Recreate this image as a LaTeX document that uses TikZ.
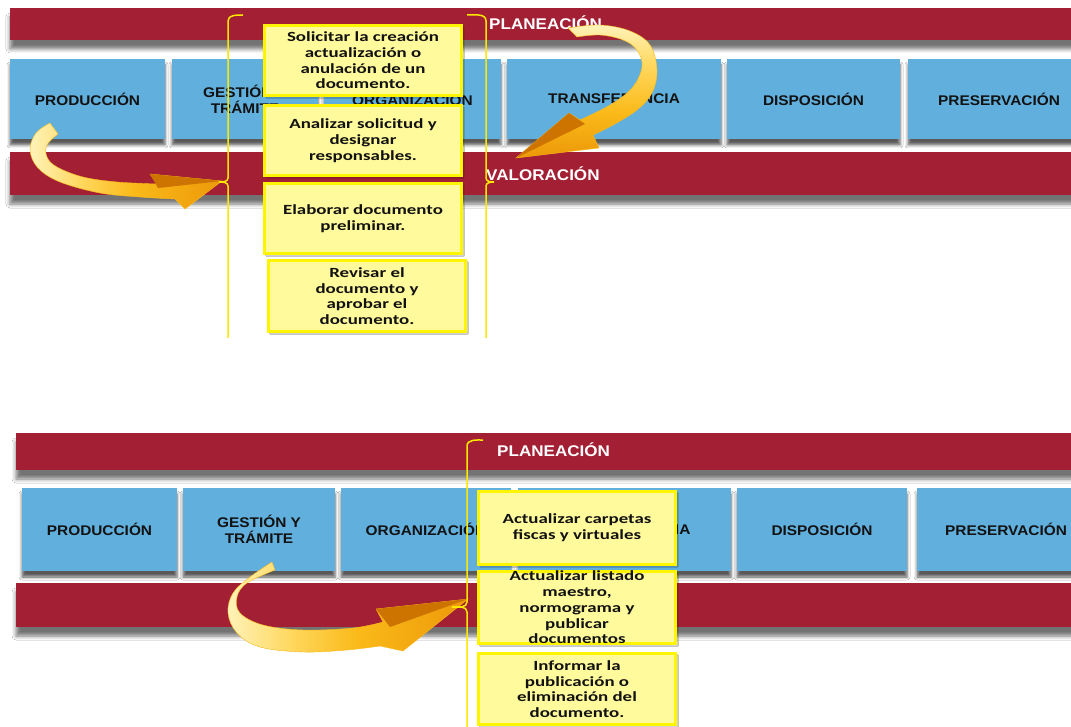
\documentclass[tikz,border=0pt]{standalone}
\usepackage{fontspec}
\setmainfont{Liberation Sans}
\newfontfamily\calib{Carlito}
\usetikzlibrary{shadows.blur}
\definecolor{barred}{RGB}{163,31,52}
\definecolor{boxblue}{RGB}{96,175,221}
\definecolor{noteyel}{RGB}{255,250,156}
\definecolor{noteedge}{RGB}{255,245,0}
\definecolor{brk}{RGB}{255,232,0}
\definecolor{arrL}{RGB}{255,243,185}
\definecolor{arrY}{RGB}{255,216,95}
\definecolor{arrM}{RGB}{250,186,25}
\definecolor{arrO}{RGB}{236,152,8}
\definecolor{arrD}{RGB}{205,115,0}
\definecolor{txt}{RGB}{18,18,18}
\pgfdeclarehorizontalshading{arrowH}{100bp}{color(0bp)=(arrL); color(25bp)=(arrL); color(38bp)=(arrY); color(52bp)=(arrM); color(75bp)=(arrO); color(100bp)=(arrO)}
\pgfdeclareverticalshading{arrowV}{100bp}{color(0bp)=(arrO); color(25bp)=(arrO); color(42bp)=(arrM); color(60bp)=(arrY); color(75bp)=(arrL); color(100bp)=(arrL)}
\begin{document}
\begin{tikzpicture}[x=1pt,y=-1pt,
  bar/.style={fill=barred, draw=none, inner sep=0pt, minimum width=1080pt,
    blur shadow={shadow xshift=0pt, shadow yshift=-9pt, shadow blur radius=4pt, shadow opacity=55}},
  bluebox/.style={fill=boxblue, draw=none, inner sep=0pt,
    blur shadow={shadow xshift=0pt, shadow yshift=-6pt, shadow blur radius=3pt, shadow opacity=65}},
  bluetext/.style={font=\bfseries\fontsize{14}{16}\selectfont, text=txt, xscale=1.1, inner sep=0pt, align=center},
  bartext/.style={font=\bfseries\fontsize{15.5}{17}\selectfont, text=white, xscale=1.1, inner sep=0pt, anchor=west},
  note/.style={fill=noteyel, draw=noteedge, line width=3pt, inner sep=0pt, minimum width=197pt,
    blur shadow={shadow xshift=2pt, shadow yshift=-2pt, shadow blur radius=1pt, shadow opacity=30}},
  notetext/.style={font=\calib\bfseries\fontsize{14}{15.7}\selectfont, text=txt, xscale=1.35, inner sep=0pt, align=center},
  brace/.style={draw=brk, line width=1.5pt},
  arrowbody/.style={draw=arrM, line width=0.4pt},
]
\useasboundingbox (0,0) rectangle (1071,727);
\clip (0,0) rectangle (1071,727);
\fill[white] (0,0) rectangle (1071,727);

% ================= TOP PANEL =================
\node[bar, minimum height=32pt] (tplan) at (550,24) {};
\node[bar, minimum height=43pt] (tval) at (550,173.5) {};
\node[bartext] (tplant) at (489,23) {PLANEACIÓN};
\node[bartext] (tvalt) at (486,174) {VALORACIÓN};

\node[bluebox, minimum width=155pt, minimum height=80pt] (tprod) at (87.5,99) {};
\node[bluebox, minimum width=146pt, minimum height=80pt] (tgest) at (245,99) {};
\node[bluebox, minimum width=177pt, minimum height=80pt] (torg) at (412.5,99) {};
\node[bluebox, minimum width=214pt, minimum height=80pt] (ttrans) at (614,99) {};
\node[bluebox, minimum width=173pt, minimum height=80pt] (tdisp) at (813.5,99) {};
\node[bluebox, minimum width=182pt, minimum height=80pt] (tpres) at (999,99) {};
\node[bluetext] (tprodt) at (tprod) {PRODUCCIÓN};
\node[bluetext] (tgestt) at (tgest) {GESTIÓN Y\\TRÁMITE};
\node[bluetext] (torgt) at (torg) {ORGANIZACIÓN};
\node[bluetext] (ttranst) at (ttrans) {TRANSFERENCIA};
\node[bluetext] (tdispt) at (tdisp) {DISPOSICIÓN};
\node[bluetext] (tprest) at (tpres) {PRESERVACIÓN};

% arrow 1
\shade[shading=arrowH, arrowbody] (50,123)
  -- plot[smooth, tension=0.6] coordinates {(50,123) (36,133) (30,150) (38,168) (60,182) (100,193) (140,197) (175,199)}
  -- (185,209) -- (222,181) -- (150,174) -- (157,184)
  -- plot[smooth, tension=0.6] coordinates {(157,184) (117,182) (83,177) (57,167) (47,157) (47,145) (58,134)}
  -- cycle;
\fill[arrD] (150,174) -- (222,181) -- (158,188) -- cycle;

% arrow 2
\shade[shading=arrowV, arrowbody] (568,28)
  -- plot[smooth, tension=0.6] coordinates {(568,28) (600,25) (630,31) (650,45) (657,70) (652,93) (637,110) (613,125) (593,135)}
  -- (599,148) -- (516,158) -- (569,113) -- (580,120)
  -- plot[smooth, tension=0.6] coordinates {(580,120) (610,105) (632,88) (642,67) (637,50) (623,40) (600,35) (577,37)}
  -- cycle;
\fill[arrD] (569,113) -- (516,158) -- (585,124) -- cycle;

% braces top
\coordinate (bl1) at (243,15);
\coordinate (bl2) at (228,338);
\coordinate (br1) at (467,15);
\coordinate (br2) at (486,338);
\draw[brace] (bl1) to[out=180,in=90] (228,21) -- (228,178) to[out=-90,in=0] (219,182) to[out=0,in=90] (228,186) -- (bl2);
\draw[brace] (br1) to[out=0,in=90] (486,21) -- (486,178) to[out=-90,in=180] (494,182) to[out=180,in=90] (486,186) -- (br2);

% notes top
\node[note, minimum height=70pt] (n1) at (363,60.5) {};
\node[note, minimum height=70pt] (n2) at (363,140.5) {};
\node[note, minimum height=70pt] (n3) at (363,218.5) {};
\node[note, minimum height=71pt] (n4) at (367,296) {};
\node[notetext] (n1t) at (n1) {Solicitar la creación\\actualización o\\anulación de un\\documento.};
\node[notetext] (n2t) at (n2) {Analizar solicitud y\\designar\\responsables.};
\node[notetext] (n3t) at (n3) {Elaborar documento\\preliminar.};
\node[notetext] (n4t) at (n4) {Revisar el\\documento y\\aprobar el\\documento.};

% ================= BOTTOM PANEL =================
\node[bar, minimum height=37pt] (bplan) at (556,451.5) {};
\node[bar, minimum height=44pt] (bval) at (556,605) {};
\node[bartext] (bplant) at (497,450) {PLANEACIÓN};

\node[bluebox, minimum width=155pt, minimum height=83pt] (bprod) at (99.5,529.5) {};
\node[bluebox, minimum width=152pt, minimum height=83pt] (bgest) at (259,529.5) {};
\node[bluebox, minimum width=170pt, minimum height=83pt] (borg) at (426,529.5) {};
\node[bluebox, minimum width=213pt, minimum height=83pt] (btrans) at (624.5,529.5) {};
\node[bluebox, minimum width=170pt, minimum height=83pt] (bdisp) at (822,529.5) {};
\node[bluebox, minimum width=178pt, minimum height=83pt] (bpres) at (1006,529.5) {};
\node[bluetext] (bprodt) at (bprod) {PRODUCCIÓN};
\node[bluetext] (bgestt) at (bgest) {GESTIÓN Y\\TRÁMITE};
\node[bluetext] (borgt) at (borg) {ORGANIZACIÓN};
\node[bluetext] (btranst) at (btrans) {TRANSFERENCIA};
\node[bluetext] (bdispt) at (bdisp) {DISPOSICIÓN};
\node[bluetext] (bprest) at (bpres) {PRESERVACIÓN};

% arrow 3
\shade[shading=arrowH, arrowbody] (272,562)
  -- plot[smooth, tension=0.6] coordinates {(272,562) (250,577) (233,593) (228,613) (237,633) (260,647) (303,652) (347,650) (380,646)}
  -- (403,651) -- (468,599) -- (376,609) -- (383,622)
  -- plot[smooth, tension=0.6] coordinates {(383,622) (353,628) (303,630) (263,625) (240,613) (237,597) (247,583) (275,570)}
  -- cycle;
\fill[arrD] (376,609) -- (468,599) -- (390,627) -- cycle;

% brace bottom
\coordinate (bb1) at (483,440);
\coordinate (bb2) at (467,730);
\draw[brace] (bb1) to[out=180,in=90] (467,446) -- (467,602) to[out=-90,in=0] (452,607) to[out=0,in=90] (467,612) -- (bb2);

% notes bottom
\node[note, minimum height=73pt] (m1) at (577,528) {};
\node[note, minimum height=72pt] (m2) at (577,607.5) {};
\node[note, minimum height=71pt] (m3) at (577,689) {};
\node[notetext] (m1t) at (m1) {Actualizar carpetas\\fiscas y virtuales};
\node[notetext] (m2t) at (m2) {Actualizar listado\\maestro,\\normograma y\\publicar\\documentos};
\node[notetext] (m3t) at (m3) {Informar la\\publicación o\\eliminación del\\documento.};
\end{tikzpicture}
\end{document}
